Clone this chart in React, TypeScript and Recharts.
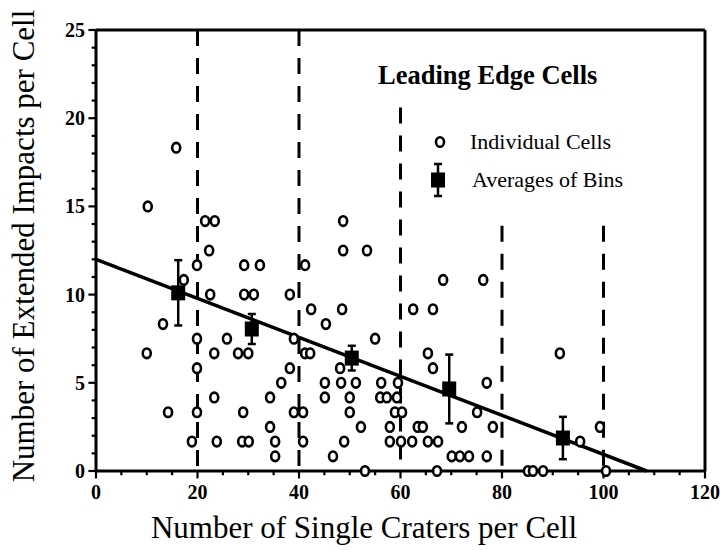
import React from 'react';
import {
  ScatterChart,
  Scatter,
  XAxis,
  YAxis,
  ReferenceLine,
  ErrorBar,
  Label,
} from 'recharts';

const FONT = '"Liberation Serif", "Times New Roman", serif';

// individual cells (single craters, extended impacts)
const cellsX = [
  22.3, 19.9, 29.2, 32.3, 41.2, 17.3, 22.5, 29.2, 31.1, 38.2, 13.2, 10.0, 19.9, 25.8, 23.3, 28.0, 30.0, 39.0,
  19.9, 38.2, 36.5, 23.3, 34.3, 14.2, 19.9, 29.0, 39.0, 34.3, 18.9, 23.8, 28.8, 30.1, 35.3, 35.3,
  48.7, 53.4, 68.4, 76.3, 42.4, 48.5, 45.3, 62.5, 66.4, 55.0, 41.2, 42.2, 65.4, 48.1, 66.4, 45.1, 48.3, 51.2,
  56.2, 59.5, 77.0, 45.1, 50.0, 56.0, 57.3, 59.3, 50.0, 58.9, 60.3, 75.1, 52.2, 57.9, 63.4, 64.4, 72.1, 78.2,
  48.9, 57.9, 60.1, 62.3, 65.4, 67.4, 46.7, 70.1, 71.7, 73.5, 77.0, 53.0, 67.2, 40.8, 40.8,
  91.4, 99.3, 95.4, 85.1, 86.1, 88.1, 100.5, 15.8, 10.2, 21.5, 23.4, 48.7,
];
const cellsY = [
  12.5, 11.67, 11.67, 11.67, 11.67, 10.83, 10, 10, 10, 10, 8.33, 6.67, 7.5, 7.5, 6.67, 6.67, 6.67, 7.5,
  5.83, 5.83, 5, 4.17, 4.17, 3.33, 3.33, 3.33, 3.33, 2.5, 1.67, 1.67, 1.67, 1.67, 1.67, 0.83,
  12.5, 12.5, 10.83, 10.83, 9.17, 9.17, 8.33, 9.17, 9.17, 7.5, 6.67, 6.67, 6.67, 5.83, 5.83, 5, 5, 5,
  5, 5, 5, 4.17, 4.17, 4.17, 4.17, 4.17, 3.33, 3.33, 3.33, 3.33, 2.5, 2.5, 2.5, 2.5, 2.5, 2.5,
  1.67, 1.67, 1.67, 1.67, 1.67, 1.67, 0.83, 0.83, 0.83, 0.83, 0.83, 0, 0, 1.67, 3.33,
  6.67, 2.5, 1.67, 0, 0, 0, 0, 18.33, 15, 14.17, 14.17, 14.17,
];

// bin averages with error bars
const binX = [16.2, 30.7, 50.4, 69.6, 92.0];
const binMean = [10.1, 8.05, 6.4, 4.65, 1.87];
const binErr = [1.85, 0.85, 0.7, 1.95, 1.2];

// bin boundaries (dashed) and how high each one reaches
const binEdges = [20, 40, 60, 80, 100];
const binEdgeTops = [25, 25, 20.6, 13.9, 13.9];

// fitted line end points
const fitX = [0, 108.5];
const fitY = [12, 0];

const xTicks = [0, 5, 10, 15, 20, 25, 30, 35, 40, 45, 50, 55, 60, 65, 70, 75, 80, 85, 90, 95, 100, 105, 110, 115, 120];
const yTicks = [0, 1, 2, 3, 4, 5, 6, 7, 8, 9, 10, 11, 12, 13, 14, 15, 16, 17, 18, 19, 20, 21, 22, 23, 24, 25];

const cells = cellsX.map((x, i) => ({ x, y: cellsY[i] }));
const bins = binX.map((x, i) => ({ x, y: binMean[i], err: binErr[i] }));

// tick marks drawn outside the plot, lengths in data units (~7px major, ~4px minor)
const xTickLen = (t: number) => (t % 20 === 0 ? 0.42 : 0.24);
const yTickLen = (t: number) => (t % 5 === 0 ? 1.5 : 0.85);

const XTick = (props: any) => {
  const { x, y, payload } = props;
  if (payload.value % 20 !== 0) return <g />;
  return (
    <text x={x} y={y + 28} textAnchor="middle" fontFamily={FONT} fontWeight="bold" fontSize={20} fill="#000">
      {payload.value}
    </text>
  );
};

const YTick = (props: any) => {
  const { x, y, payload } = props;
  if (payload.value % 5 !== 0) return <g />;
  return (
    <text x={x - 11} y={y} dy="0.35em" textAnchor="end" fontFamily={FONT} fontWeight="bold" fontSize={20} fill="#000">
      {payload.value}
    </text>
  );
};

const Ring = (props: any) => (
  <ellipse cx={props.cx} cy={props.cy} rx={4} ry={4.8} fill="#fff" stroke="#000" strokeWidth={2.6} />
);

const Box = (props: any) => (
  <rect x={props.cx - 7} y={props.cy - 7.5} width={14} height={15} fill="#000" />
);

export default function App() {
  return (
    <div style={{ position: 'absolute', left: 0, top: 0, width: 720, height: 550, background: '#fff' }}>
      <ScatterChart width={720} height={550} margin={{ top: 30, right: 15, bottom: 0, left: 0 }}>
        <XAxis
          type="number"
          dataKey="x"
          domain={[0, 120]}
          ticks={xTicks}
          interval={0}
          tick={XTick}
          tickLine={false}
          tickSize={0}
          tickMargin={0}
          height={79}
          axisLine={{ stroke: '#000', strokeWidth: 3 }}
        >
          <Label
            content={() => (
              <text x={364} y={538} textAnchor="middle" fontFamily={FONT} fontSize={31} fill="#000">
                Number of Single Craters per Cell
              </text>
            )}
          />
        </XAxis>
        <YAxis
          type="number"
          dataKey="y"
          domain={[0, 25]}
          ticks={yTicks}
          interval={0}
          tick={YTick}
          tickLine={false}
          tickSize={0}
          tickMargin={0}
          width={96}
          axisLine={{ stroke: '#000', strokeWidth: 3 }}
        >
          <Label
            content={() => (
              <text
                x={34}
                y={246}
                transform="rotate(-90 34 246)"
                textAnchor="middle"
                fontFamily={FONT}
                fontSize={31}
                fill="#000"
              >
                Number of Extended Impacts per Cell
              </text>
            )}
          />
        </YAxis>
        {xTicks.map((t) => (
          <ReferenceLine
            key={`xt${t}`}
            segment={[{ x: t, y: 0 }, { x: t, y: -xTickLen(t) }]}
            stroke="#000"
            strokeWidth={2.2}
            ifOverflow="visible"
          />
        ))}
        {yTicks.map((t) => (
          <ReferenceLine
            key={`yt${t}`}
            segment={[{ x: 0, y: t }, { x: -yTickLen(t), y: t }]}
            stroke="#000"
            strokeWidth={2.2}
            ifOverflow="visible"
          />
        ))}
        <ReferenceLine y={25} stroke="#000" strokeWidth={3} />
        <ReferenceLine x={120} stroke="#000" strokeWidth={3} />
        {binEdges.map((e, i) => (
          <ReferenceLine
            key={e}
            segment={[{ x: e, y: binEdgeTops[i] }, { x: e, y: 0 }]}
            stroke="#000"
            strokeWidth={3}
            strokeDasharray="16 12"
          />
        ))}
        <ReferenceLine
          segment={[{ x: fitX[0], y: fitY[0] }, { x: fitX[1], y: fitY[1] }]}
          stroke="#000"
          strokeWidth={3.5}
        />
        <Scatter data={cells} shape={<Ring />} isAnimationActive={false} />
        <Scatter data={bins} shape={<Box />} isAnimationActive={false}>
          <ErrorBar dataKey="err" direction="y" width={4} strokeWidth={2.5} stroke="#000" isAnimationActive={false} />
        </Scatter>
      </ScatterChart>
      <svg width={720} height={550} style={{ position: 'absolute', left: 0, top: 0, pointerEvents: 'none' }}>
        <text x={378} y={84} fontFamily={FONT} fontWeight="bold" fontSize={26.5} fill="#000">
          Leading Edge Cells
        </text>
        <ellipse cx={440} cy={142} rx={4} ry={4.8} fill="#fff" stroke="#000" strokeWidth={2.6} />
        <text x={470} y={149} fontFamily={FONT} fontSize={22} fill="#000">
          Individual Cells
        </text>
        <line x1={438} x2={438} y1={164} y2={196} stroke="#000" strokeWidth={2.5} />
        <line x1={434} x2={442} y1={164} y2={164} stroke="#000" strokeWidth={2.5} />
        <line x1={434} x2={442} y1={196} y2={196} stroke="#000" strokeWidth={2.5} />
        <rect x={431} y={172.5} width={14} height={15} fill="#000" />
        <text x={472} y={187} fontFamily={FONT} fontSize={22} fill="#000">
          Averages of Bins
        </text>
      </svg>
    </div>
  );
}
